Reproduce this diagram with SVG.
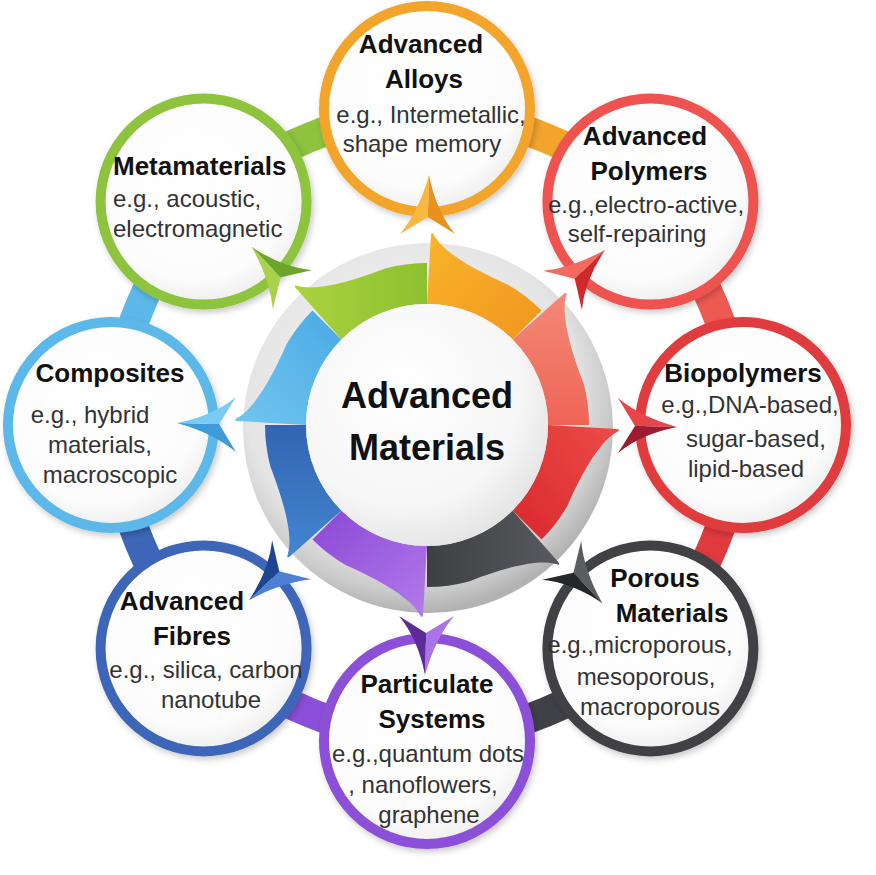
<svg xmlns="http://www.w3.org/2000/svg" width="876" height="875" viewBox="0 0 876 875">
<defs>
<style>
.ring{fill:url(#wf);stroke-width:10;filter:url(#sh)}
.band{fill:none;stroke-width:30}
.t{font-family:"Liberation Sans",Arial,sans-serif;font-weight:bold;font-size:26px;fill:#111;text-anchor:middle}
.d{font-family:"Liberation Sans",Arial,sans-serif;font-size:24px;fill:#333;text-anchor:middle}
.c{font-family:"Liberation Sans",Arial,sans-serif;font-weight:bold;font-size:36px;fill:#111;text-anchor:middle}
</style>
<filter id="sh" x="-20%" y="-20%" width="140%" height="140%">
<feDropShadow dx="2" dy="3" stdDeviation="3" flood-color="#000" flood-opacity="0.22"/>
</filter>
<radialGradient id="wf" cx="0.45" cy="0.4" r="0.6">
<stop offset="0" stop-color="#ffffff"/><stop offset="0.8" stop-color="#fcfcfc"/><stop offset="1" stop-color="#eeeeee"/>
</radialGradient>
<radialGradient id="gray" cx="0.45" cy="0.4" r="0.6">
<stop offset="0" stop-color="#fafafa"/><stop offset="0.75" stop-color="#e4e4e4"/><stop offset="0.9" stop-color="#cbcbcb"/><stop offset="1" stop-color="#b2b2b2"/>
</radialGradient>
<radialGradient id="inner" cx="0.4" cy="0.35" r="0.7">
<stop offset="0" stop-color="#ffffff"/><stop offset="0.7" stop-color="#f6f6f6"/><stop offset="1" stop-color="#e2e2e2"/>
</radialGradient>
<linearGradient id="s0" x1="0" y1="0" x2="1" y2="1"><stop offset="0" stop-color="#F9B42B"/><stop offset="1" stop-color="#F0961F"/></linearGradient>
<linearGradient id="s1" x1="0" y1="0" x2="1" y2="1"><stop offset="0" stop-color="#F38A78"/><stop offset="1" stop-color="#EE5F52"/></linearGradient>
<linearGradient id="s2" x1="0" y1="0" x2="1" y2="1"><stop offset="0" stop-color="#EC4C47"/><stop offset="1" stop-color="#D9282E"/></linearGradient>
<linearGradient id="s3" x1="0" y1="0" x2="1" y2="1"><stop offset="0" stop-color="#5A5B60"/><stop offset="1" stop-color="#3A3B3F"/></linearGradient>
<linearGradient id="s4" x1="0" y1="0" x2="1" y2="1"><stop offset="0" stop-color="#B27BEA"/><stop offset="1" stop-color="#8B47D6"/></linearGradient>
<linearGradient id="s5" x1="0" y1="0" x2="1" y2="1"><stop offset="0" stop-color="#4586D2"/><stop offset="1" stop-color="#2F5FAE"/></linearGradient>
<linearGradient id="s6" x1="0" y1="0" x2="1" y2="1"><stop offset="0" stop-color="#72C6F0"/><stop offset="1" stop-color="#4AA9E3"/></linearGradient>
<linearGradient id="s7" x1="0" y1="0" x2="1" y2="1"><stop offset="0" stop-color="#ADD33F"/><stop offset="1" stop-color="#87BE2D"/></linearGradient>
<path id="seg" d="M 0 -121 L 4 -190 Q 5 -194 7 -190 C 13 -178 34 -161 81 -140.3 A 162 162 0 0 1 114.55 -114.55 L 85.56 -85.56 A 121 121 0 0 0 0 -121 Z"/>
<path id="aL" d="M 2 -250 Q -8 -214 -27 -191 L 1 -208 Z"/>
<path id="aR" d="M 2 -250 L 1 -208 L 28 -191 Q 9 -214 2 -250 Z"/>
</defs>
<rect width="876" height="875" fill="#ffffff"/>

<g id="connectors">
<path class="band" stroke="#F2A52A" d="M 427 109 A 400 400 0 0 1 650.4 201.6"/>
<path class="band" stroke="#EE5A52" d="M 650.4 201.6 A 400 400 0 0 1 743 425"/>
<path class="band" stroke="#E03A3E" d="M 743 425 A 400 400 0 0 1 650.4 648.4"/>
<path class="band" stroke="#404146" d="M 650.4 648.4 A 400 400 0 0 1 427 741"/>
<path class="band" stroke="#8C50D8" d="M 427 741 A 400 400 0 0 1 203.6 648.4"/>
<path class="band" stroke="#3E66B8" d="M 203.6 648.4 A 400 400 0 0 1 111 425"/>
<path class="band" stroke="#5DB8EA" d="M 111 425 A 400 400 0 0 1 203.6 201.6"/>
<path class="band" stroke="#8DC33E" d="M 203.6 201.6 A 400 400 0 0 1 427 109"/>
</g>

<g id="node-alloys"><circle class="ring" cx="427" cy="109" r="103" stroke="#F2A52A"/></g>
<g id="node-polymers"><circle class="ring" cx="650.4" cy="201.6" r="103" stroke="#EE5350"/></g>
<g id="node-biopolymers"><circle class="ring" cx="743" cy="425" r="103" stroke="#E03A3E"/></g>
<g id="node-porous"><circle class="ring" cx="650.4" cy="648.4" r="103" stroke="#3F4045"/></g>
<g id="node-particulate"><circle class="ring" cx="427" cy="741" r="103" stroke="#8C50D8"/></g>
<g id="node-fibres"><circle class="ring" cx="203.6" cy="648.4" r="103" stroke="#3E66B8"/></g>
<g id="node-composites"><circle class="ring" cx="111" cy="425" r="103" stroke="#5DB8EA"/></g>
<g id="node-metamaterials"><circle class="ring" cx="203.6" cy="201.6" r="103" stroke="#8DC33E"/></g>

<g id="node-center">
<circle cx="428" cy="428" r="185" fill="url(#gray)"/>
<g transform="translate(427 425)">
<use href="#seg" fill="url(#s0)"/>
<use href="#seg" fill="url(#s1)" transform="rotate(45)"/>
<use href="#seg" fill="url(#s2)" transform="rotate(90)"/>
<use href="#seg" fill="url(#s3)" transform="rotate(135)"/>
<use href="#seg" fill="url(#s4)" transform="rotate(180)"/>
<use href="#seg" fill="url(#s5)" transform="rotate(225)"/>
<use href="#seg" fill="url(#s6)" transform="rotate(270)"/>
<use href="#seg" fill="url(#s7)" transform="rotate(315)"/>
</g>
<circle cx="427" cy="425" r="121" fill="url(#inner)"/>
<text class="c" x="427" y="408">Advanced</text>
<text class="c" x="427" y="460">Materials</text>
</g>

<g id="arrows" transform="translate(427 425)">
<g><use href="#aL" fill="#F8B840"/><use href="#aR" fill="#E8911C"/></g>
<g transform="rotate(45)"><use href="#aL" fill="#F26A60"/><use href="#aR" fill="#D0282C"/></g>
<g transform="rotate(90)"><use href="#aL" fill="#E8454A"/><use href="#aR" fill="#9E1C30"/></g>
<g transform="rotate(135)"><use href="#aL" fill="#5C5D62"/><use href="#aR" fill="#26272B"/></g>
<g transform="rotate(180)"><use href="#aL" fill="#A874E6"/><use href="#aR" fill="#5E2A98"/></g>
<g transform="rotate(225)"><use href="#aL" fill="#4C80D2"/><use href="#aR" fill="#1E4590"/></g>
<g transform="rotate(270)"><use href="#aL" fill="#3C9BD8"/><use href="#aR" fill="#7ACBF2"/></g>
<g transform="rotate(315)"><use href="#aL" fill="#A8D24C"/><use href="#aR" fill="#6DA42A"/></g>
</g>

<g id="labels">
<text class="t" x="421" y="53">Advanced</text>
<text class="t" x="424" y="88">Alloys</text>
<text class="d" x="431" y="123">e.g., Intermetallic,</text>
<text class="d" x="422" y="152">shape memory</text>

<text class="t" x="645" y="145">Advanced</text>
<text class="t" x="649" y="180">Polymers</text>
<text class="d" x="646" y="213">e.g.,electro-active,</text>
<text class="d" x="637" y="242">self-repairing</text>

<text class="t" x="743" y="382">Biopolymers</text>
<text class="d" x="750" y="413">e.g.,DNA-based,</text>
<text class="d" x="756" y="447">sugar-based,</text>
<text class="d" x="746" y="477">lipid-based</text>

<text class="t" x="655" y="587">Porous</text>
<text class="t" x="672" y="622">Materials</text>
<text class="d" x="640" y="653">e.g.,microporous,</text>
<text class="d" x="646" y="685">mesoporous,</text>
<text class="d" x="650" y="715">macroporous</text>

<text class="t" x="427" y="693">Particulate</text>
<text class="t" x="432" y="728">Systems</text>
<text class="d" x="428" y="762">e.g.,quantum dots</text>
<text class="d" x="423" y="793">, nanoflowers,</text>
<text class="d" x="429" y="823">graphene</text>

<text class="t" x="182" y="610">Advanced</text>
<text class="t" x="192" y="645">Fibres</text>
<text class="d" x="206" y="678">e.g., silica, carbon</text>
<text class="d" x="211" y="708">nanotube</text>

<text class="t" x="110" y="382">Composites</text>
<text class="d" x="90" y="423">e.g., hybrid</text>
<text class="d" x="100" y="453">materials,</text>
<text class="d" x="110" y="483">macroscopic</text>

<text class="t" x="113" y="175" style="text-anchor:start">Metamaterials</text>
<text class="d" x="113" y="207" style="text-anchor:start">e.g., acoustic,</text>
<text class="d" x="113" y="237" style="text-anchor:start">electromagnetic</text>
</g>
</svg>
